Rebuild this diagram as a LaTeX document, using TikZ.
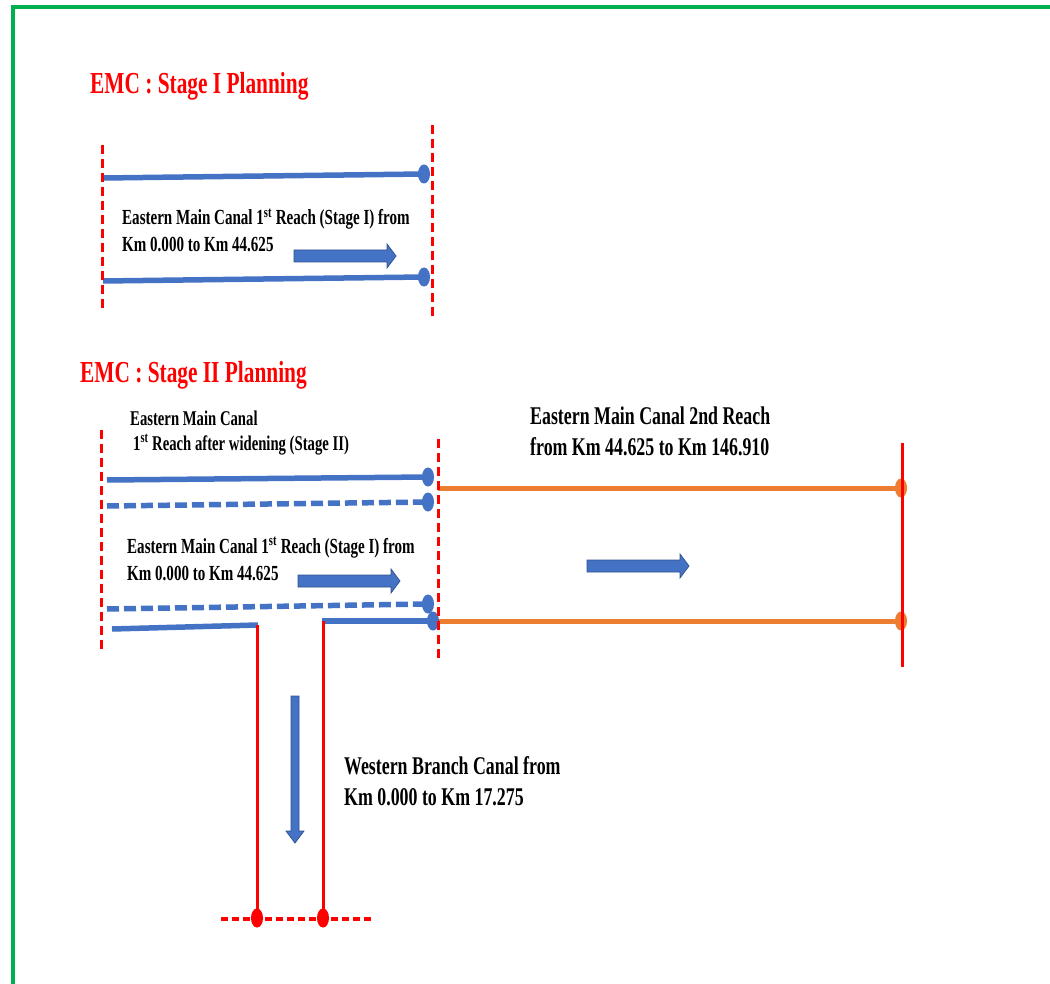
\documentclass[tikz,border=0pt]{standalone}
\usepackage{fontspec}
\setmainfont{Liberation Serif}
\newfontfamily\canalfont[FakeStretch=0.70]{Liberation Serif}
\usetikzlibrary{positioning}
\definecolor{canalblue}{RGB}{68,114,196}
\definecolor{arrowedge}{RGB}{47,82,143}
\definecolor{reachorange}{RGB}{237,125,49}
\definecolor{limitred}{RGB}{255,0,0}
\definecolor{framegreen}{RGB}{0,176,80}
\tikzset{
  frame/.style={framegreen,line width=4pt},
  bank/.style={canalblue,line width=5.5pt},
  oldbank/.style={bank,dash pattern=on 12pt off 5pt},
  reach/.style={reachorange,line width=5pt},
  limit/.style={limitred,line width=3pt,dash pattern=on 9pt off 5pt},
  branch/.style={limitred,line width=3pt},
  branchend/.style={limitred,line width=4pt,dash pattern=on 7pt off 4pt},
  flowarrow/.style={fill=canalblue,draw=arrowedge,line width=0.7pt},
  title/.style={anchor=base west,inner sep=0pt,text=limitred,
                font=\canalfont\bfseries\fontsize{30.5}{36}\selectfont},
  lab/.style={anchor=base west,inner sep=0pt,align=left,
              font=\canalfont\bfseries\fontsize{21.5}{27}\selectfont},
  labwide/.style={lab,font=\canalfont\bfseries\fontsize{25.5}{31}\selectfont},
}
\newcommand{\bankdot}[2]{\fill[#1] (#2) ellipse [x radius=6pt,y radius=9.5pt];}

\begin{document}
\begin{tikzpicture}[x=1pt,y=-1pt]
  \path[use as bounding box] (0,0) rectangle (1050,984);
  \draw[frame] (12.5,984) -- (12.5,7.5) -- (1050,7.5);

  % Stage I
  \node[title] (titleone) at (90,94) {EMC : Stage I Planning};
  \coordinate (oneleftA) at (103,178);
  \coordinate (onerightA) at (424,174);
  \coordinate (oneleftB) at (103,281);
  \coordinate (onerightB) at (424,277);
  \draw[bank] (oneleftA) -- (onerightA);
  \draw[bank] (oneleftB) -- (onerightB);
  \bankdot{canalblue}{onerightA}
  \bankdot{canalblue}{onerightB}
  \draw[limit] (102,145) -- (102,310);
  \draw[limit] (432,125) -- (432,317);
  % base of the last line
  \node[lab] (reachone) at (122,252)
    {Eastern Main Canal 1\textsuperscript{st} Reach (Stage I) from\\Km 0.000 to Km 44.625};
  \draw[flowarrow] (294,250) -- (387,250) -- (387,244) -- (396,256)
    -- (387,268) -- (387,262) -- (294,262) -- cycle;

  % Stage II
  \node[title] (titletwo) at (80,382) {EMC : Stage II Planning};
  \node[lab,font=\canalfont\bfseries\fontsize{21}{25}\selectfont] (widening) at (130,450)
    {Eastern Main Canal\\\hspace*{3pt}1\textsuperscript{st} Reach after widening (Stage II)};
  \coordinate (twoleftA) at (107,480);
  \coordinate (tworightA) at (428,477);
  \coordinate (twoleftB) at (107,506);
  \coordinate (tworightB) at (428,502);
  \coordinate (twoleftC) at (107,609);
  \coordinate (tworightC) at (428,604);
  \coordinate (twoleftD) at (112,629);
  \coordinate (offtakeL) at (258,625);
  \coordinate (offtakeR) at (322,621);
  \coordinate (tworightD) at (433,621);
  \draw[bank] (twoleftA) -- (tworightA);
  \draw[oldbank] (twoleftB) -- (tworightB);
  \draw[oldbank] (twoleftC) -- (tworightC);
  \draw[bank] (twoleftD) -- (offtakeL);
  \draw[bank] (offtakeR) -- (tworightD);

  % second reach
  \coordinate (reachtwoA) at (438,488);
  \coordinate (reachendA) at (901,488);
  \coordinate (reachtwoB) at (438,621);
  \coordinate (reachendB) at (901,621);
  \draw[reach] (reachtwoA) -- (reachendA);
  \draw[reach] (reachtwoB) -- (reachendB);
  \bankdot{reachorange}{reachendA}
  \bankdot{reachorange}{reachendB}
  \bankdot{canalblue}{tworightA}
  \bankdot{canalblue}{tworightB}
  \bankdot{canalblue}{tworightC}
  \bankdot{canalblue}{tworightD}
  \draw[limit] (101,430) -- (101,652);
  \draw[limit] (438,439) -- (438,661);
  \draw[branch] (902,443) -- (902,667);

  \node[lab] (reachfirst) at (127,580)
    {Eastern Main Canal 1\textsuperscript{st} Reach (Stage I) from\\Km 0.000 to Km 44.625};
  \draw[flowarrow] (298,575) -- (391,575) -- (391,569) -- (400,581)
    -- (391,593) -- (391,587) -- (298,587) -- cycle;
  \node[labwide] (reachsecond) at (530,455)
    {Eastern Main Canal 2nd Reach\\from Km 44.625 to Km 146.910};
  \draw[flowarrow] (587,560) -- (680,560) -- (680,554) -- (689,566)
    -- (680,578) -- (680,572) -- (587,572) -- cycle;

  % Western branch
  \coordinate (branchendL) at (257,918);
  \coordinate (branchendR) at (323,918);
  \draw[branch] (257,625) -- (branchendL);
  \draw[branch] (323,621) -- (branchendR);
  \draw[branchend] (221,919) -- (372,919);
  \bankdot{limitred}{branchendL}
  \bankdot{limitred}{branchendR}
  \draw[flowarrow] (291,696) -- (291,831) -- (286,831) -- (295,843)
    -- (304,831) -- (299,831) -- (299,696) -- cycle;
  \node[labwide] (westbranch) at (344,805)
    {Western Branch Canal from\\Km 0.000 to Km 17.275};
\end{tikzpicture}
\end{document}
